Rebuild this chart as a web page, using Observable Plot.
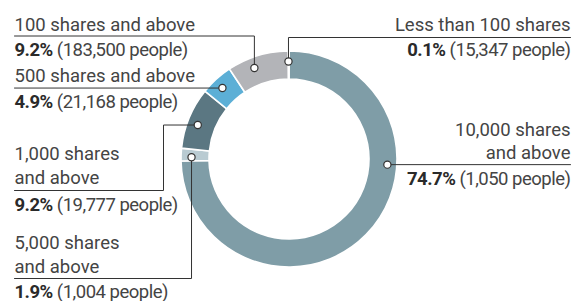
<!DOCTYPE html>
<html>
<head>
<meta charset="utf-8">
<script src="https://cdn.jsdelivr.net/npm/d3@7"></script>
<script src="https://cdn.jsdelivr.net/npm/@observablehq/plot@0.6"></script>
<style>
  html, body { margin: 0; padding: 0; background: #fff; }
  #chart svg { display: block; font-family: Roboto, "DejaVu Sans", sans-serif; }
</style>
</head>
<body>
<div id="chart"></div>
<script>
// ---- Data ----
const categories = ["10,000 shares and above", "5,000 shares and above", "1,000 shares and above", "500 shares and above", "100 shares and above", "Less than 100 shares"];
const sharePct = [74.7, 1.9, 9.2, 4.9, 9.2, 0.1];
const peopleCounts = ["1,050", "1,004", "19,777", "21,168", "183,500", "15,347"];

// ---- Styles ----
const palette = ["#7f9da7", "#b9cbd2", "#5b7782", "#5cafd6", "#b3b4b8", "#d6dde0"];
const color = d3.scaleOrdinal(categories, palette);

// ---- Layout (pixel-space frame) ----
const W = 574, H = 301;
const center = {x: 289, y: 159};
const R_OUT = 108, R_IN = 80, R_DOT = 98;
const layout = [
  {titleLines: ["10,000 shares", "and above"], anchor: "end", tx: 570, titleY: [135, 158], valueY: 184, dotAngle: 93,
   leader: d => [[570, d.y], [d.x, d.y]]},
  {titleLines: ["5,000 shares", "and above"], anchor: "start", tx: 14, titleY: [248, 272], valueY: 297, dotAngle: 271.3,
   leader: d => [[14, 278], [d.x, 278], [d.x, d.y]]},
  {titleLines: ["1,000 shares", "and above"], anchor: "start", tx: 14, titleY: [159, 183], valueY: 210, dotAngle: 290.6,
   leader: d => [[14, 190], [163, 190], [163, d.y], [d.x, d.y]]},
  {titleLines: ["500 shares and above"], anchor: "start", tx: 14, titleY: [81], valueY: 107, dotAngle: 316.8,
   leader: d => [[14, d.y], [d.x, d.y]]},
  {titleLines: ["100 shares and above"], anchor: "start", tx: 14, titleY: [30], valueY: 55, dotAngle: 339,
   leader: d => [[14, 35.5], [d.x, 35.5], [d.x, d.y]]},
  {titleLines: ["Less than 100 shares"], anchor: "end", tx: 570, titleY: [30], valueY: 55, dotAngle: 359.4,
   leader: d => [[570, 37], [d.x, 37], [d.x, d.y]]}
];

// ---- Derived tables ----
const rows = categories.map((c, i) => ({category: c, share: sharePct[i], people: peopleCounts[i]}));
const dots = rows.map((r, i) => {
  const a = layout[i].dotAngle * Math.PI / 180;
  return {category: r.category, x: center.x + R_DOT * Math.sin(a), y: center.y - R_DOT * Math.cos(a)};
});
const leaderPts = dots.flatMap((d, i) => layout[i].leader(d).map(([x, y]) => ({id: d.category, x, y})));
const titleText = rows.flatMap((r, i) => layout[i].titleLines.map((t, j) => ({text: t, x: layout[i].tx, y: layout[i].titleY[j], anchor: layout[i].anchor})));
const valueText = rows.map((r, i) => ({text: `${r.share}% (${r.people} people)`, x: layout[i].tx, y: layout[i].valueY, anchor: layout[i].anchor}));

// ---- Donut render mark (uses Plot's x/y scales) ----
function donut(index, scales) {
  const sx = (scales && scales.x) || (v => v);
  const sy = (scales && scales.y) || (v => v);
  const pie = d3.pie().sort(null).value(d => d.share)(rows);
  const arc = d3.arc()
    .innerRadius(sx(center.x + R_IN) - sx(center.x))
    .outerRadius(sx(center.x + R_OUT) - sx(center.x));
  const g = d3.create("svg:g")
    .attr("transform", `translate(${sx(center.x)},${sy(center.y)})`);
  g.selectAll("path").data(pie).join("path")
    .attr("d", arc)
    .attr("fill", d => color(d.data.category))
    .attr("stroke", "#fff")
    .attr("stroke-width", 1.6)
    .append("title").text(d => `${d.data.category}: ${d.data.share}%`);
  return g.node();
}

const FS = 18.5;
const textMarks = (data, fill, anchor, extra = {}) => Plot.text(data.filter(d => d.anchor === anchor), {
  x: "x", y: "y", text: "text", textAnchor: anchor, lineAnchor: "bottom",
  fontSize: FS, fill, ...extra
});

const chart = Plot.plot({
  width: W, height: H,
  margin: 0,
  style: {background: "#fff", fontFamily: "Roboto, 'DejaVu Sans', sans-serif", overflow: "visible"},
  x: {domain: [0, W], range: [0, W], axis: null},
  y: {domain: [0, H], range: [0, H], axis: null},
  marks: [
    donut,
    Plot.line(leaderPts, {x: "x", y: "y", z: "id", stroke: "#333", strokeWidth: 1}),
    Plot.dot(dots, {x: "x", y: "y", r: 3.6, fill: "#fff", stroke: "#333", strokeWidth: 1.2}),
    textMarks(titleText, "#444", "start"),
    textMarks(titleText, "#444", "end"),
    textMarks(valueText, "#444", "start", {ariaLabel: "value"}),
    textMarks(valueText, "#444", "end", {ariaLabel: "value"})
  ]
});

// Bold the percentage part of value labels
d3.select(chart).selectAll("text").each(function() {
  const el = d3.select(this);
  if (el.selectAll("tspan").size() > 0) return;
  const t = el.text();
  const m = t.match(/^(\d+(?:\.\d+)?%)( .*)$/);
  if (!m) return;
  el.text(null).attr("letter-spacing", "-0.5px");
  el.append("tspan").attr("font-weight", "bold").attr("fill", "#2a2a2a").text(m[1]);
  el.append("tspan").text(m[2]);
});

document.getElementById("chart").append(chart);
</script>
</body>
</html>
